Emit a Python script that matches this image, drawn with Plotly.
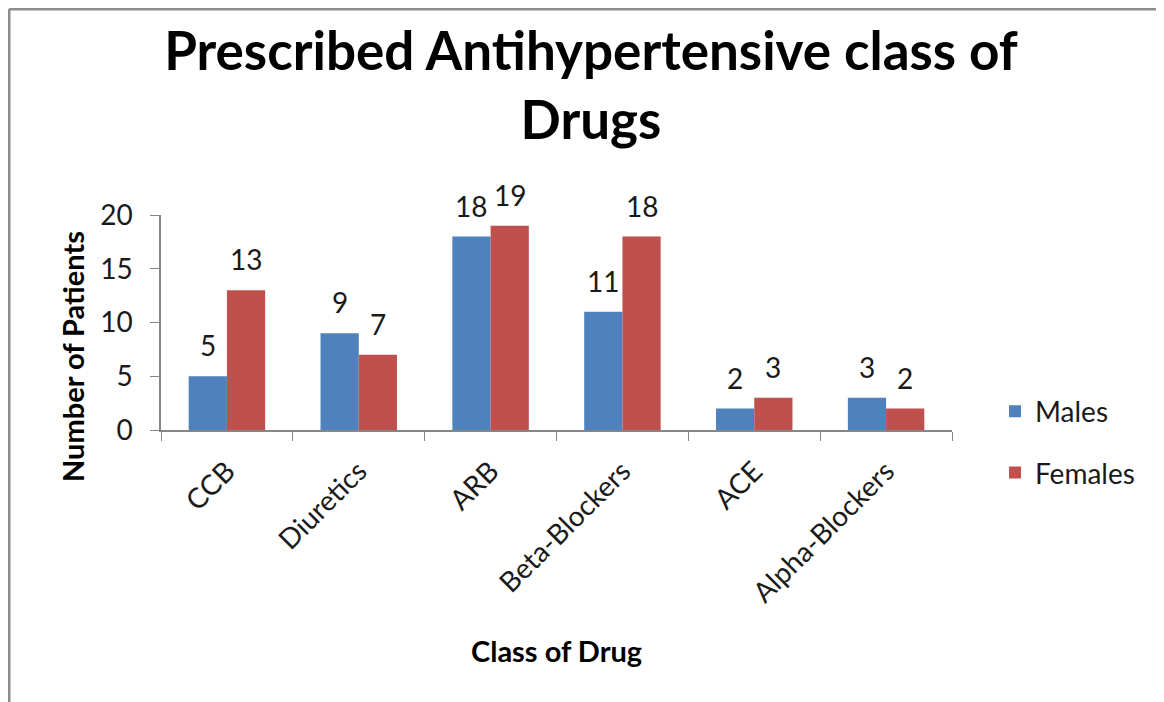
import plotly.graph_objects as go

# data
drug_classes = ["CCB", "Diuretics", "ARB", "Beta-Blockers", "ACE", "Alpha-Blockers"]
males = [5, 9, 18, 11, 2, 3]
females = [13, 7, 19, 18, 3, 2]

OFF = 8                      # page body margin the plot div sits behind
W, H = 1164 - OFF, 702 - OFF
# plot area in screen px: x 161..952, y 215..430
L, R, T, B = 161 - OFF, 1164 - 952, 215 - OFF, 702 - 430
pw, ph = W - L - R, H - T - B

def px_x(x):  # screen pixel -> paper x
    return (x - OFF - L) / pw

def px_y(y):  # screen pixel -> paper y
    return (H - B - (y - OFF)) / ph

FONT = "Lato"
AXIS_GREY = "#868686"
TXT = "#1a1a1a"
BARGAP = 0.42

fig = go.Figure()
fig.add_trace(go.Bar(x=drug_classes, y=males, name="Males", legendgroup="m",
                     marker=dict(color="#4F81BD", line=dict(width=0))))
fig.add_trace(go.Bar(x=drug_classes, y=females, name="Females", legendgroup="f",
                     marker=dict(color="#C0504D", line=dict(width=0))))

# value labels above each bar (Excel puts them a little higher than plotly's "outside")
half_bar = pw / len(drug_classes) * (1 - BARGAP) / 4
for vals, sign in ((males, -1), (females, 1)):
    for cat, v in zip(drug_classes, vals):
        fig.add_annotation(x=cat, y=v, xref="x", yref="y", text=str(v), showarrow=False,
                           xshift=sign * half_bar, yshift=31, yanchor="middle",
                           font=dict(size=28, color=TXT, family=FONT))

fig.update_layout(
    width=W, height=H,
    margin=dict(l=L, r=R, t=T, b=B, autoexpand=False),
    paper_bgcolor="white", plot_bgcolor="white",
    barmode="group", bargap=BARGAP, bargroupgap=0,
    font=dict(family=FONT, color=TXT),
    title=dict(text="<b>Prescribed Antihypertensive class of<br>Drugs</b>",
               x=(591 - OFF) / W, xanchor="center", y=(H - (70 - OFF)) / H, yanchor="middle",
               font=dict(size=53, color="black", family=FONT)),
    legend=dict(x=px_x(995), xanchor="left", y=px_y(442), yanchor="middle",
                font=dict(size=28, family=FONT, color=TXT), tracegroupgap=22,
                bgcolor="rgba(0,0,0,0)"),
    showlegend=True,
)

fig.update_xaxes(showline=True, linecolor=AXIS_GREY, linewidth=1.5,
                 ticks="outside", tickson="boundaries", ticklen=9, tickcolor=AXIS_GREY,
                 tickangle=-45, ticklabelstandoff=12,
                 tickfont=dict(size=28, family=FONT, color=TXT),
                 showgrid=False)
fig.update_yaxes(range=[0, 20], dtick=5, showline=True, linecolor=AXIS_GREY, linewidth=1.5,
                 ticks="outside", ticklen=9, tickcolor=AXIS_GREY, ticklabelstandoff=12,
                 tickfont=dict(size=28, family=FONT, color=TXT),
                 showgrid=False, zeroline=False)

# axis titles
fig.add_annotation(text="<b>Number of Patients</b>", textangle=-90, showarrow=False,
                   xref="paper", yref="paper", x=px_x(72), y=px_y(357),
                   xanchor="center", yanchor="middle",
                   font=dict(size=29, family=FONT, color="black"))
fig.add_annotation(text="<b>Class of Drug</b>", showarrow=False,
                   xref="paper", yref="paper", x=px_x(556), y=px_y(650),
                   xanchor="center", yanchor="middle",
                   font=dict(size=29, family=FONT, color="black"))

# chart border (left and top edges visible)
fig.add_shape(type="line", xref="paper", yref="paper",
              x0=px_x(9), x1=px_x(9), y0=px_y(9), y1=px_y(710),
              line=dict(color="#8c8c8c", width=3))
fig.add_shape(type="line", xref="paper", yref="paper",
              x0=px_x(9), x1=px_x(1170), y0=px_y(9), y1=px_y(9),
              line=dict(color="#8c8c8c", width=3))

fig.write_html("out.html")
